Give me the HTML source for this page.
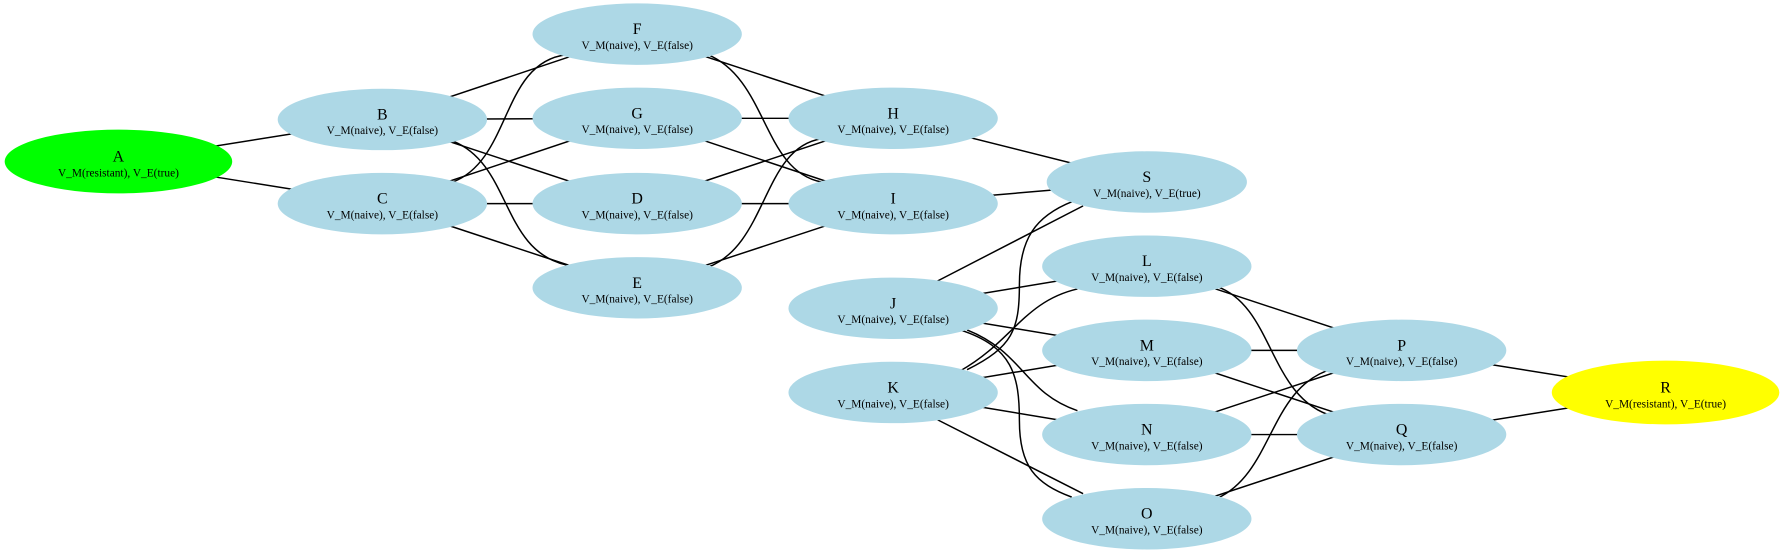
<!DOCTYPE html>
<html><head><style>html,body{margin:0;padding:0;background:#fff}svg{display:block}</style></head><body>
<svg width="1784" height="554" viewBox="0 0 1568 487" xmlns="http://www.w3.org/2000/svg">
<g stroke="#000" stroke-width="1.3" fill="none">
<line x1="104" y1="142" x2="336" y2="105"/><line x1="104" y1="142" x2="336" y2="179"/>
<line x1="336" y1="105" x2="560" y2="30"/><line x1="336" y1="105" x2="560" y2="104"/>
<line x1="336" y1="105" x2="560" y2="179"/>
<path d="M398,124 C450,145 440,220 498,233"/>
<path d="M398,160 C450,140 440,55 498,48"/>
<line x1="336" y1="179" x2="560" y2="104"/><line x1="336" y1="179" x2="560" y2="179"/>
<line x1="336" y1="179" x2="560" y2="253"/>
<line x1="560" y1="30" x2="785" y2="104"/>
<path d="M622,48 C675,70 670,150 722,160"/>
<line x1="560" y1="104" x2="785" y2="104"/><line x1="560" y1="104" x2="785" y2="179"/>
<line x1="560" y1="179" x2="785" y2="104"/><line x1="560" y1="179" x2="785" y2="179"/>
<path d="M622,235 C675,215 670,130 722,122"/>
<line x1="560" y1="253" x2="785" y2="179"/>
<line x1="785" y1="104" x2="1008" y2="160"/><line x1="785" y1="179" x2="1008" y2="160"/>
<line x1="824" y1="247" x2="952" y2="181"/>
<path d="M850,325 C890,305 896,290 896,250 C896,210 910,190 943,177"/>
<line x1="785" y1="271" x2="1008" y2="234"/><line x1="785" y1="271" x2="1008" y2="308"/>
<path d="M844,326 C890,300 900,265 947,254"/>
<path d="M850,290 C900,310 900,345 947,361"/>
<path d="M844,290 C890,305 896,330 896,370 C896,410 910,425 942,437"/>
<line x1="785" y1="345" x2="1008" y2="308"/><line x1="785" y1="345" x2="1008" y2="382"/>
<line x1="824" y1="369" x2="952" y2="434"/>
<line x1="1008" y1="234" x2="1232" y2="308"/>
<path d="M1070,252 C1120,270 1115,350 1172,366"/>
<line x1="1008" y1="308" x2="1232" y2="308"/><line x1="1008" y1="308" x2="1232" y2="382"/>
<line x1="1008" y1="382" x2="1232" y2="308"/><line x1="1008" y1="382" x2="1232" y2="382"/>
<path d="M1070,438 C1120,415 1115,340 1172,324"/>
<line x1="1008" y1="456" x2="1232" y2="382"/>
<line x1="1232" y1="308" x2="1464" y2="345"/><line x1="1232" y1="382" x2="1464" y2="345"/>
</g>
<g font-family="'Liberation Serif',serif" text-anchor="middle">
<ellipse cx="104" cy="142" rx="100" ry="28" fill="#00ff00"/>
<text x="104" y="142" font-size="14">A</text><text x="104" y="155" font-size="10">V_M(resistant), V_E(true)</text>
<ellipse cx="1464" cy="345" rx="100" ry="28" fill="#ffff00"/>
<text x="1464" y="345" font-size="14">R</text><text x="1464" y="358" font-size="10">V_M(resistant), V_E(true)</text>
<g fill="#add8e6">
<ellipse cx="336" cy="105" rx="92" ry="27"/><ellipse cx="336" cy="179" rx="92" ry="27"/>
<ellipse cx="560" cy="30" rx="92" ry="27"/><ellipse cx="560" cy="104" rx="92" ry="27"/>
<ellipse cx="560" cy="179" rx="92" ry="27"/><ellipse cx="560" cy="253" rx="92" ry="27"/>
<ellipse cx="785" cy="104" rx="92" ry="27"/><ellipse cx="785" cy="179" rx="92" ry="27"/>
<ellipse cx="1008" cy="160" rx="88" ry="27"/><ellipse cx="785" cy="271" rx="92" ry="27"/>
<ellipse cx="785" cy="345" rx="92" ry="27"/><ellipse cx="1008" cy="234" rx="92" ry="27"/>
<ellipse cx="1008" cy="308" rx="92" ry="27"/><ellipse cx="1008" cy="382" rx="92" ry="27"/>
<ellipse cx="1008" cy="456" rx="92" ry="27"/><ellipse cx="1232" cy="308" rx="92" ry="27"/>
<ellipse cx="1232" cy="382" rx="92" ry="27"/>
</g>
<g fill="#000">
<text x="336" y="105" font-size="14">B</text><text x="336" y="118" font-size="10">V_M(naive), V_E(false)</text>
<text x="336" y="179" font-size="14">C</text><text x="336" y="192" font-size="10">V_M(naive), V_E(false)</text>
<text x="560" y="30" font-size="14">F</text><text x="560" y="43" font-size="10">V_M(naive), V_E(false)</text>
<text x="560" y="104" font-size="14">G</text><text x="560" y="117" font-size="10">V_M(naive), V_E(false)</text>
<text x="560" y="179" font-size="14">D</text><text x="560" y="192" font-size="10">V_M(naive), V_E(false)</text>
<text x="560" y="253" font-size="14">E</text><text x="560" y="266" font-size="10">V_M(naive), V_E(false)</text>
<text x="785" y="104" font-size="14">H</text><text x="785" y="117" font-size="10">V_M(naive), V_E(false)</text>
<text x="785" y="179" font-size="14">I</text><text x="785" y="192" font-size="10">V_M(naive), V_E(false)</text>
<text x="1008" y="160" font-size="14">S</text><text x="1008" y="173" font-size="10">V_M(naive), V_E(true)</text>
<text x="785" y="271" font-size="14">J</text><text x="785" y="284" font-size="10">V_M(naive), V_E(false)</text>
<text x="785" y="345" font-size="14">K</text><text x="785" y="358" font-size="10">V_M(naive), V_E(false)</text>
<text x="1008" y="234" font-size="14">L</text><text x="1008" y="247" font-size="10">V_M(naive), V_E(false)</text>
<text x="1008" y="308" font-size="14">M</text><text x="1008" y="321" font-size="10">V_M(naive), V_E(false)</text>
<text x="1008" y="382" font-size="14">N</text><text x="1008" y="395" font-size="10">V_M(naive), V_E(false)</text>
<text x="1008" y="456" font-size="14">O</text><text x="1008" y="469" font-size="10">V_M(naive), V_E(false)</text>
<text x="1232" y="308" font-size="14">P</text><text x="1232" y="321" font-size="10">V_M(naive), V_E(false)</text>
<text x="1232" y="382" font-size="14">Q</text><text x="1232" y="395" font-size="10">V_M(naive), V_E(false)</text>
</g>
</g>
</svg>
</body></html>
